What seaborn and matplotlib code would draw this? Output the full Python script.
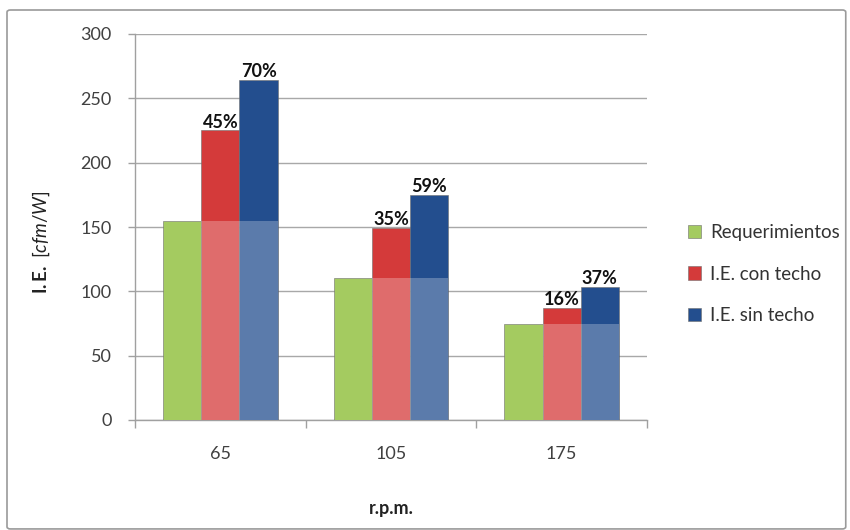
import matplotlib
matplotlib.use("Agg")
import matplotlib.pyplot as plt
from matplotlib.patches import FancyBboxPatch
import seaborn as sns
import pandas as pd

# datos
rpm = ["65", "105", "175"]
series = ["Requerimientos", "I.E. con techo", "I.E. sin techo"]
requerimientos = [155, 110, 75]
ie_con_techo = [225, 149, 87]
ie_sin_techo = [264, 175, 103]
pct_con_techo = ["45%", "35%", "16%"]
pct_sin_techo = ["70%", "59%", "37%"]
y_ticks = [0, 50, 100, 150, 200, 250, 300]

colores = ["#A4CB60", "#D43A3A", "#234E8E"]

df = pd.DataFrame({
    "rpm": rpm * 3,
    "ie": requerimientos + ie_con_techo + ie_sin_techo,
    "serie": [s for s in series for _ in rpm],
})

sns.set_style("white")
plt.rcParams["font.family"] = ["Lato", "DejaVu Sans"]
plt.rcParams["mathtext.fontset"] = "custom"
plt.rcParams["mathtext.rm"] = "Lato"
plt.rcParams["mathtext.bf"] = "Lato:bold"
plt.rcParams["mathtext.it"] = "Lato:italic"

fig = plt.figure(figsize=(8.5, 5.3), dpi=100)
ax = fig.add_axes([135 / 850, 1 - 420 / 530, 512 / 850, 386 / 530])

# marco exterior
fig.patches.append(FancyBboxPatch((7 / 850, 0.002), 0.995 - 7 / 850, 1 - 10 / 530 - 0.002,
                                  boxstyle="round,pad=0,rounding_size=0.004",
                                  transform=fig.transFigure, facecolor="none",
                                  edgecolor="#9A9A9A", linewidth=1.2, zorder=-1))

sns.barplot(data=df, x="rpm", y="ie", hue="serie", hue_order=series, palette=colores,
            width=0.672, saturation=1, dodge=True, gap=0, edgecolor="#6F6F6F",
            linewidth=0.4, ax=ax, zorder=3)

# parte inferior mas clara (hasta el nivel de requerimientos)
for cont in ax.containers[1:]:
    for i, bar in enumerate(cont):
        h = min(bar.get_height(), requerimientos[i])
        ax.bar(bar.get_x(), h, width=bar.get_width(), align="edge", color="white",
               alpha=0.26, linewidth=0, zorder=4)

ax.bar_label(ax.containers[1], labels=pct_con_techo, padding=0, fontsize=13,
             fontweight="bold", color="#111111", zorder=6)
ax.bar_label(ax.containers[2], labels=pct_sin_techo, padding=0, fontsize=13,
             fontweight="bold", color="#111111", zorder=6)

ax.set_ylim(0, 300)
ax.set_xlim(-0.5, 2.5)
ax.set_yticks(y_ticks)
ax.yaxis.grid(True, color="#A8A8A8", linewidth=1)
ax.set_axisbelow(True)

for s in ["top", "right"]:
    ax.spines[s].set_visible(False)
for s in ["left", "bottom"]:
    ax.spines[s].set_color("#A0A0A0")
    ax.spines[s].set_linewidth(1)

ax.tick_params(axis="y", which="major", length=5, width=1, color="#A0A0A0",
               labelsize=13, labelcolor="#404040", pad=12, left=True)
ax.tick_params(axis="x", which="major", length=0, labelsize=13,
               labelcolor="#404040", pad=19)
ax.set_xticks([-0.5, 0.5, 1.5, 2.5], minor=True)
ax.tick_params(axis="x", which="minor", length=6, width=1, color="#A0A0A0", bottom=True)

ax.set_xlabel("r.p.m.", fontsize=13, fontweight="bold", color="#222222")
ax.xaxis.set_label_coords(0.5, (420 - 500) / 386)
ax.set_ylabel(r"$\mathbf{I.E.}\ \mathit{[cfm/W]}$", fontsize=13.5, color="#222222")
ax.yaxis.set_label_coords((52 - 135) / 512, 0.46)

ax.legend(loc="center left", bbox_to_anchor=((680 - 135) / 512, (420 - 274) / 386),
          frameon=False, fontsize=13.5, handlelength=0.7, handleheight=0.7,
          handletextpad=0.5, labelspacing=1.3, borderaxespad=0, labelcolor="#333333")

fig.savefig("out.png", dpi=100)
